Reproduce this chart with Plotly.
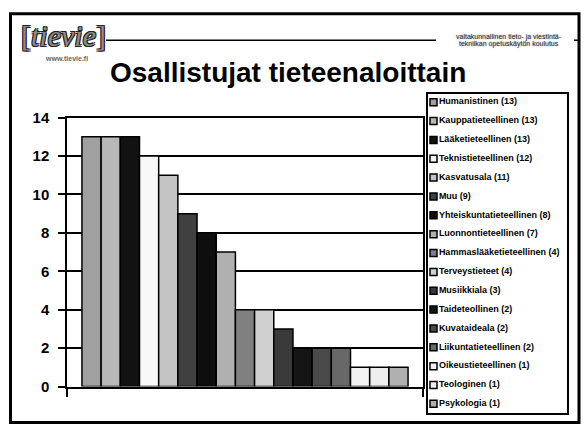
import plotly.graph_objects as go

# ---- data ----
categories = [
    "Humanistinen", "Kauppatieteellinen", "Lääketieteellinen", "Teknistieteellinen",
    "Kasvatusala", "Muu", "Yhteiskuntatieteellinen", "Luonnontieteellinen",
    "Hammaslääketieteellinen", "Terveystieteet", "Musiikkiala", "Taideteollinen",
    "Kuvataideala", "Liikuntatieteellinen", "Oikeustieteellinen", "Teologinen", "Psykologia",
]
values = [13, 13, 13, 12, 11, 9, 8, 7, 4, 4, 3, 2, 2, 2, 1, 1, 1]
colors = [
    "#a0a0a0", "#b8b8b8", "#121212", "#f8f8f8", "#c4c4c4", "#404040", "#0e0e0e",
    "#b0b0b0", "#808080", "#d0d0d0", "#3a3a3a", "#151515", "#4a4a4a", "#686868",
    "#f2f2f2", "#eeeeee", "#b0b0b0",
]
y_ticks = [0, 2, 4, 6, 8, 10, 12, 14]
title_text = "Osallistujat tieteenaloittain"
header_lines = ["valtakunnallinen tieto- ja viestintä-", "tekniikan opetuskäytön koulutus"]

W, H = 584, 433
def px(x):
    return x / W
def py(y):
    return 1 - y / H

FONT = "Arial, Liberation Sans, sans-serif"

fig = go.Figure()

# bars: one trace per category, grouped in a single slot
for name, v, c in zip(categories, values, colors):
    fig.add_trace(go.Bar(
        x=[""], y=[v], name=name,
        marker=dict(color=c, line=dict(color="black", width=1.5)),
        showlegend=False, xaxis="x", yaxis="y",
    ))

# custom legend drawn on an auxiliary axis
leg_labels = [f"{n} ({v})" for n, v in zip(categories, values)]
fig.add_trace(go.Scatter(
    x=[5.5] * len(categories), y=leg_labels,
    mode="markers+text", text=leg_labels, textposition="middle right",
    textfont=dict(family=FONT, size=9, color="black", weight="bold"),
    marker=dict(symbol="square", size=7, color=colors, line=dict(color="black", width=1.5)),
    showlegend=False, xaxis="x2", yaxis="y2", cliponaxis=False, hoverinfo="skip",
))

n = len(categories)
fig.update_layout(
    width=W, height=H,
    margin=dict(l=0, r=0, t=0, b=0),
    paper_bgcolor="white", plot_bgcolor="white",
    barmode="group", bargap=0.084, bargroupgap=0,
    showlegend=False,
    xaxis=dict(
        domain=[px(67), px(423)], anchor="y",
        showticklabels=False, showgrid=False,
        showline=True, linecolor="black", linewidth=1.5, mirror=True,
        ticks="outside", tickson="boundaries", ticklen=9, tickwidth=1.5, tickcolor="black",
        fixedrange=True,
    ),
    yaxis=dict(
        domain=[py(393), py(113)], anchor="x",
        range=[0, 14], tickvals=y_ticks,
        showgrid=True, gridcolor="black", gridwidth=1.5, zeroline=False,
        showline=True, linecolor="black", linewidth=1.5, mirror=True,
        ticks="outside", ticklen=7, tickwidth=1.5, tickcolor="black",
        ticklabelstandoff=6,
        tickfont=dict(family=FONT, size=15, color="black", weight="bold"),
    ),
    xaxis2=dict(
        domain=[px(428), px(567)], anchor="y2", range=[0, 139],
        showticklabels=False, showgrid=False, zeroline=False,
        showline=True, linecolor="black", linewidth=1.5, mirror=True,
    ),
    yaxis2=dict(
        domain=[py(421), py(88)], anchor="x2",
        type="category", categoryorder="array", categoryarray=leg_labels,
        range=[n - 1 + 10 / 19.6, -9 / 19.6],
        showticklabels=False, showgrid=False, zeroline=False,
        showline=True, linecolor="black", linewidth=1.5, mirror=True,
    ),
)

shapes = [
    dict(type="rect", xref="paper", yref="paper", x0=px(10.5), x1=px(579), y0=py(430.5), y1=py(5),
         line=dict(color="black", width=3)),
    dict(type="line", xref="paper", yref="paper", x0=px(106), x1=px(436), y0=py(32.5), y1=py(32.5),
         line=dict(color="black", width=1.5)),
    dict(type="line", xref="paper", yref="paper", x0=px(574), x1=px(578), y0=py(32.5), y1=py(32.5),
         line=dict(color="black", width=1.5)),
]
fig.update_layout(shapes=shapes)

ann = [
    dict(text=title_text, x=px(288), y=py(66), xref="paper", yref="paper",
         showarrow=False, xanchor="center", yanchor="middle",
         font=dict(family=FONT, size=28, color="black", weight="bold")),
    dict(text="[<i>tievie</i>]", x=px(63), y=py(28), xref="paper", yref="paper",
         showarrow=False, xanchor="center", yanchor="middle",
         font=dict(family="Liberation Serif, serif", size=30, color="#8a8a8a",
                   shadow="1px 1px 0px #222, -1px -1px 0px #222, 1px -1px 0px #222, -1px 1px 0px #222")),
    dict(text="www.tievie.fi", x=px(66), y=py(52), xref="paper", yref="paper",
         showarrow=False, xanchor="center", yanchor="middle",
         font=dict(family=FONT, size=7, color="#666", weight="bold")),
    dict(text=header_lines[0], x=px(509), y=py(29.5), xref="paper", yref="paper",
         showarrow=False, xanchor="center", yanchor="middle",
         font=dict(family=FONT, size=7, color="#333", shadow="0px 0px 2px #888")),
    dict(text=header_lines[1], x=px(509), y=py(36), xref="paper", yref="paper",
         showarrow=False, xanchor="center", yanchor="middle",
         font=dict(family=FONT, size=7, color="#333", shadow="0px 0px 2px #888")),
]
fig.update_layout(annotations=ann)

fig.write_html(
    "out.html",
    config={"displayModeBar": False},
    post_script="document.body.style.margin='0px';document.body.style.overflow='hidden';",
)
